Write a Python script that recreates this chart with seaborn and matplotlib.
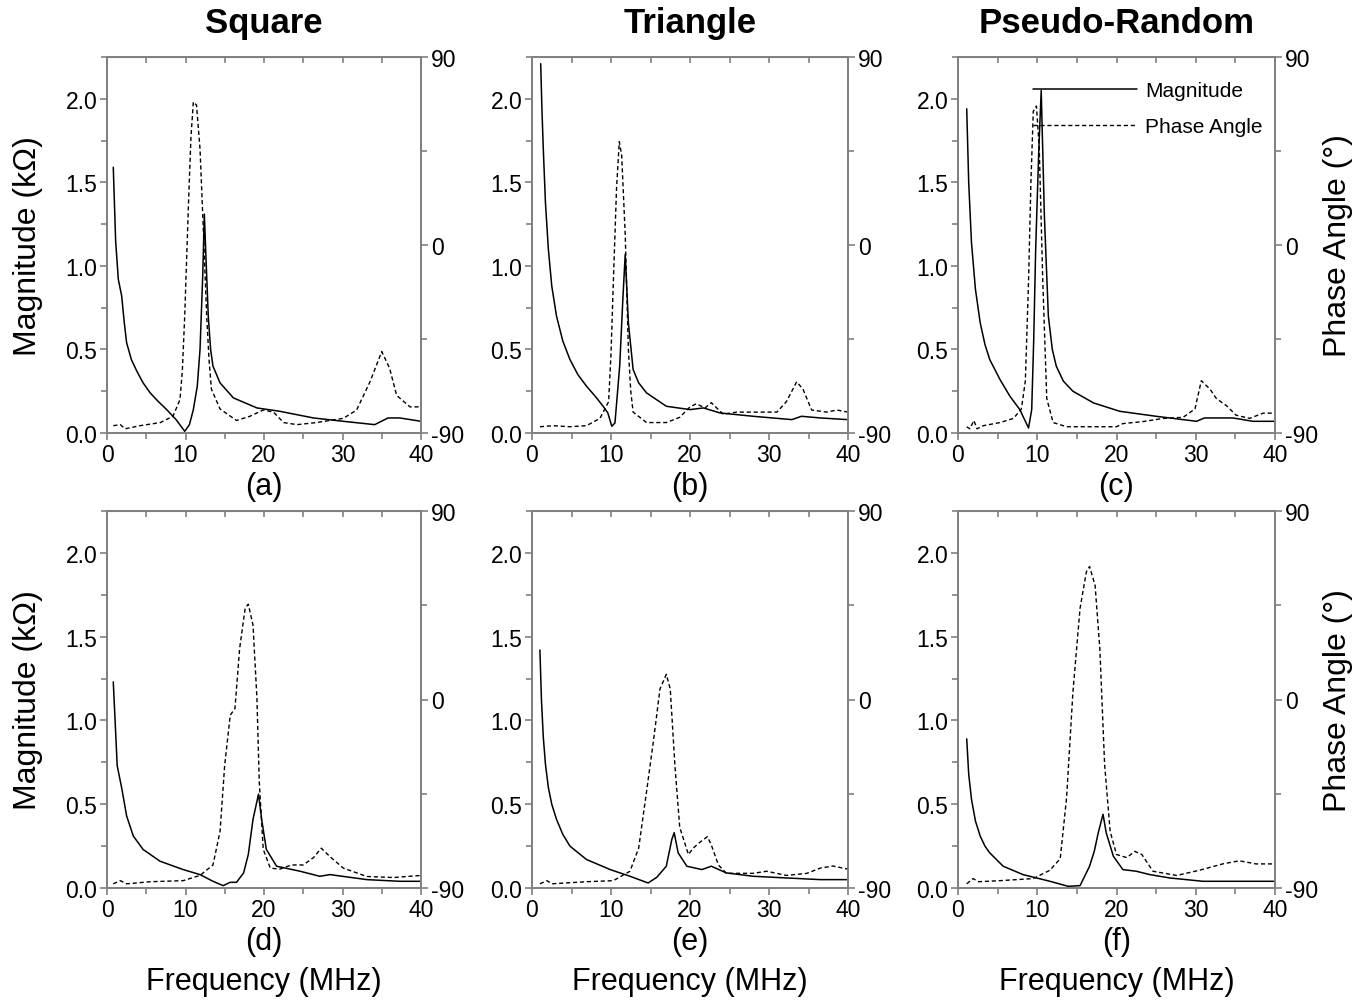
import numpy as np
import pandas as pd
import matplotlib.pyplot as plt
import seaborn as sns
from matplotlib.ticker import MultipleLocator

# ---- data ----
titles = ["Square", "Triangle", "Pseudo-Random"]
letters = ["(a)", "(b)", "(c)", "(d)", "(e)", "(f)"]

# (a) square, first measurement
a_mag_f = [0.8, 1.1, 1.44, 1.87, 2.2, 2.5, 3.1, 3.8, 4.6, 5.5, 6.5, 7.6, 8.8, 9.9, 10.5, 11.0, 11.5,
           11.85, 12.2, 12.4, 12.6, 12.9, 13.2, 13.5, 14.4, 16.1, 19.1, 22.0, 26.3, 30.1, 34.1,
           35.8, 37.3, 40.0]
a_mag = [1.59, 1.15, 0.92, 0.82, 0.66, 0.54, 0.44, 0.37, 0.30, 0.24, 0.19, 0.14, 0.08, 0.01, 0.05,
         0.14, 0.28, 0.50, 0.95, 1.31, 1.06, 0.70, 0.50, 0.40, 0.30, 0.21, 0.15, 0.13, 0.09, 0.07,
         0.05, 0.09, 0.09, 0.07]
a_ph_f = [0.8, 1.7, 2.3, 4.2, 6.8, 8.4, 9.3, 9.6, 9.9, 10.4, 10.7, 11.0, 11.4, 11.85, 12.3, 12.7,
          13.0, 13.3, 14.4, 16.5, 18.2, 19.9, 21.2, 22.5, 24.2, 26.7, 30.1, 31.8, 33.5, 35.0, 36.0,
          36.9, 38.6, 40.0]
a_ph = [-86.5, -86, -88, -86.5, -85, -82, -74, -60, -34, 22, 52, 68.5, 67, 46, 5, -34,
        -55, -69, -78.5, -84, -82, -79, -80, -85, -86, -85, -83, -79, -65.5, -51, -59,
        -72, -77.5, -77.5]

# (b) triangle
b_mag_f = [1.1, 1.25, 1.43, 1.7, 2.07, 2.5, 3.1, 3.9, 4.8, 5.8, 6.9, 8.0, 9.0, 9.6, 10.1, 10.5,
           11.1, 11.5, 11.8, 12.2, 12.8, 13.5, 14.5, 17.0, 20.0, 21.7, 23.8, 28.0, 32.9, 34.1,
           36.5, 40.0]
b_mag = [2.21, 1.95, 1.70, 1.38, 1.10, 0.88, 0.70, 0.55, 0.44, 0.35, 0.28, 0.22, 0.16, 0.12, 0.04,
         0.06, 0.40, 0.80, 1.07, 0.66, 0.38, 0.30, 0.24, 0.16, 0.14, 0.15, 0.12, 0.10, 0.08, 0.10,
         0.09, 0.08]
b_ph_f = [1.0, 2.7, 4.8, 6.9, 8.6, 9.7, 10.0, 10.3, 10.7, 11.05, 11.35, 11.8, 12.2, 12.5, 12.8,
          14.5, 17.0, 18.7, 20.0, 20.8, 21.9, 22.7, 24.2, 25.9, 28.0, 31.0, 32.2, 33.5, 34.3,
          35.4, 37.3, 38.6, 40.0]
b_ph = [-87, -86.5, -87, -86.5, -83, -75, -52, -17.5, 27, 49.5, 43, 5, -50, -70, -80,
        -85, -85, -82.5, -77.5, -76, -78, -75.5, -81, -80, -80, -80, -75, -65.5, -69,
        -79, -80, -79, -80]

# (c) pseudo-random
c_mag_f = [1.1, 1.35, 1.7, 2.2, 2.8, 3.4, 4.0, 5.3, 6.55, 7.8, 8.9, 9.3, 9.55, 9.8, 10.2, 10.5,
           10.9, 11.4, 11.9, 12.4, 13.3, 14.5, 17.1, 20.4, 25.0, 30.1, 31.1, 34.7, 37.2, 40.0]
c_mag = [1.94, 1.50, 1.14, 0.86, 0.66, 0.53, 0.44, 0.32, 0.22, 0.14, 0.03, 0.14, 0.55, 1.10, 1.70,
         2.05, 1.30, 0.70, 0.50, 0.40, 0.31, 0.25, 0.18, 0.13, 0.10, 0.07, 0.09, 0.09, 0.07, 0.07]
c_ph_f = [1.1, 1.5, 2.0, 2.4, 3.2, 5.3, 7.0, 8.0, 8.5, 8.9, 9.2, 9.5, 9.9, 10.25, 10.7, 11.2, 12.0,
          13.7, 17.9, 20.0, 20.8, 23.4, 25.9, 28.4, 29.9, 30.7, 31.8, 32.6, 33.9, 35.1, 36.8,
          38.5, 40.0]
c_ph = [-87, -88, -84, -88, -86.5, -85, -83, -78.5, -65, -17.5, 30, 64, 66.5, 46.5, -17.5, -73.5,
        -85, -87, -87, -87, -85.5, -84.5, -83, -82.5, -78.5, -65, -69, -73.5, -77, -81.5, -83,
        -80.5, -80.5]

# (d) square, second measurement
d_mag_f = [0.8, 1.3, 1.9, 2.5, 3.35, 4.6, 6.75, 9.7, 11.85, 13.5, 14.8, 15.7, 16.5, 17.4, 18.0,
           18.6, 19.3, 19.7, 20.3, 21.6, 24.6, 27.1, 28.4, 33.1, 37.3, 40.0]
d_mag = [1.23, 0.73, 0.59, 0.43, 0.31, 0.23, 0.16, 0.11, 0.08, 0.04, 0.014, 0.034, 0.034, 0.09, 0.20,
         0.41, 0.56, 0.41, 0.23, 0.13, 0.10, 0.07, 0.08, 0.05, 0.04, 0.04]
d_ph_f = [0.8, 1.7, 2.5, 5.5, 9.7, 11.85, 13.5, 14.4, 15.0, 15.7, 16.3, 16.9, 17.6, 18.0, 18.6,
          19.1, 19.4, 19.9, 20.8, 22.0, 23.5, 25.0, 26.3, 27.3, 28.4, 30.1, 33.1, 36.5, 40.0]
d_ph = [-88, -86.5, -88, -87, -86.5, -84, -79, -63, -31, -7.5, -4.3, 24.5, 43.5, 45.5, 35.5,
        0.5, -39.5, -71.5, -80.5, -81, -79, -79, -75.5, -71, -75, -80.5, -84.5, -85, -84]

# (e) triangle
e_mag_f = [1.0, 1.2, 1.43, 1.7, 2.07, 2.5, 3.1, 3.9, 4.8, 6.9, 9.9, 12.4, 14.7, 15.8, 17.0, 17.7,
           18.0, 18.5, 19.6, 21.5, 22.7, 24.6, 28.0, 32.2, 36.5, 40.0]
e_mag = [1.42, 1.12, 0.90, 0.74, 0.60, 0.50, 0.41, 0.32, 0.25, 0.17, 0.11, 0.07, 0.03, 0.064, 0.13,
         0.29, 0.33, 0.21, 0.13, 0.11, 0.13, 0.09, 0.07, 0.06, 0.05, 0.05]
e_ph_f = [1.0, 1.9, 2.5, 6.9, 10.3, 12.4, 13.5, 14.5, 15.4, 16.2, 17.0, 17.5, 18.1, 18.7, 19.8,
          20.4, 21.3, 22.2, 22.7, 23.6, 24.6, 28.0, 29.7, 32.2, 34.8, 36.5, 38.1, 40.0]
e_ph = [-88, -86.5, -88, -87, -86.5, -82, -71, -44, -19, 5, 12, 5, -32, -61, -74,
        -71, -68, -65.5, -69.5, -79, -83, -83, -82, -84, -83, -80.5, -79.5, -81]

# (f) pseudo-random
f_mag_f = [1.1, 1.35, 1.7, 2.2, 2.8, 3.4, 4.0, 5.7, 8.2, 9.9, 11.6, 13.9, 15.4, 16.6, 17.2, 17.7,
           18.3, 18.7, 19.6, 20.8, 22.5, 24.2, 26.7, 30.9, 36.8, 40.0]
f_mag = [0.89, 0.68, 0.53, 0.40, 0.31, 0.25, 0.21, 0.13, 0.08, 0.06, 0.04, 0.01, 0.014, 0.13, 0.22,
         0.33, 0.44, 0.33, 0.19, 0.11, 0.10, 0.08, 0.06, 0.04, 0.04, 0.04]
f_ph_f = [1.1, 1.9, 2.6, 5.3, 9.5, 11.6, 12.9, 13.7, 14.5, 15.4, 16.2, 16.6, 17.3, 17.9, 18.5,
          19.2, 20.0, 21.3, 22.3, 23.2, 24.6, 27.6, 30.5, 33.4, 35.5, 37.6, 40.0]
f_ph = [-88, -85.5, -87, -86.5, -85.5, -81.5, -76, -47, 3.5, 43.5, 61, 63.5, 54.5, 24, -31,
        -63, -74, -75.5, -72.5, -74, -82, -84, -81.5, -78.5, -77, -78.5, -78.5]

panels = [
    (a_mag_f, a_mag, a_ph_f, a_ph),
    (b_mag_f, b_mag, b_ph_f, b_ph),
    (c_mag_f, c_mag, c_ph_f, c_ph),
    (d_mag_f, d_mag, d_ph_f, d_ph),
    (e_mag_f, e_mag, e_ph_f, e_ph),
    (f_mag_f, f_mag, f_ph_f, f_ph),
]

sns.set_style("ticks")
plt.rcParams['font.family'] = ['Liberation Sans', 'DejaVu Sans']
plt.rcParams['axes.unicode_minus'] = False
plt.rcParams['text.color'] = 'black'
plt.rcParams['axes.labelcolor'] = 'black'
plt.rcParams['xtick.labelcolor'] = 'black'
plt.rcParams['ytick.labelcolor'] = 'black'

spine_col = '#808080'
fig = plt.figure(figsize=(13.71, 10.04), dpi=100)

lefts = [107, 532, 958]
widths = [314, 316, 317]
rows = [(58, 434), (512, 889)]
W, H = 1371, 1004

for i, (mf, mv, pf, pv) in enumerate(panels):
    r, c = divmod(i, 3)
    top, bot = rows[r]
    ax = fig.add_axes([lefts[c] / W, 1 - bot / H, widths[c] / W, (bot - top) / H])
    ax2 = ax.twinx()

    ph = pd.DataFrame({'f': pf, 'phase': pv})
    mg = pd.DataFrame({'f': mf, 'mag': mv})
    sns.lineplot(data=ph, x='f', y='phase', ax=ax2, color='k', lw=1.0,
                 linestyle=(0, (3, 2)), estimator=None, sort=False, label='Phase Angle')
    sns.lineplot(data=mg, x='f', y='mag', ax=ax, color='k', lw=1.1,
                 estimator=None, sort=False, label='Magnitude')

    ax.set_xlim(0, 40)
    ax.set_ylim(0, 2.25)
    ax2.set_ylim(-90, 90)
    ax.xaxis.set_major_locator(MultipleLocator(10))
    ax.xaxis.set_minor_locator(MultipleLocator(5))
    ax.yaxis.set_major_locator(MultipleLocator(0.5))
    ax.yaxis.set_minor_locator(MultipleLocator(0.25))
    ax.yaxis.set_major_formatter(plt.FormatStrFormatter('%.1f'))
    ax2.yaxis.set_major_locator(MultipleLocator(90))
    ax2.yaxis.set_minor_locator(MultipleLocator(45))

    for a in (ax, ax2):
        for s in a.spines.values():
            s.set_visible(True)
            s.set_color(spine_col)
            s.set_linewidth(1.3)
    ax.tick_params(axis='both', which='both', direction='out', color=spine_col,
                   labelcolor='black', labelsize=16.5, width=1.2, pad=2)
    ax.tick_params(which='major', length=5)
    ax.tick_params(which='minor', length=4)
    ax2.tick_params(axis='y', which='both', direction='out', color=spine_col,
                    labelcolor='black', labelsize=16.5, width=1.2, pad=2)
    ax2.tick_params(which='major', length=5)
    ax2.tick_params(which='minor', length=4)

    # inward ticks on the top spine
    sec = ax.secondary_xaxis('top')
    sec.set_xticks(np.arange(5, 40, 5))
    sec.tick_params(direction='in', length=4, color=spine_col, width=1.2, labeltop=False)
    sec.spines['top'].set_color(spine_col)

    ax.set_xlabel('')
    ax.set_ylabel('')
    ax2.set_ylabel('')
    ax.text(0.5, -0.14, letters[i], transform=ax.transAxes, ha='center', va='center',
            fontsize=22, color='black')

    if r == 0:
        ax.set_title(titles[c], fontsize=25, fontweight='bold', pad=18, color='black')
    else:
        ax.text(0.5, -0.248, 'Frequency (MHz)', transform=ax.transAxes, ha='center',
                va='center', fontsize=22, color='black')
    if c == 0:
        ax.set_ylabel('Magnitude (k\u03a9)', fontsize=23, color='black')
        ax.yaxis.set_label_coords(-0.205, 0.5)
    if c == 2:
        ax2.set_ylabel('Phase Angle (\u00b0)', fontsize=23, color='black')
        ax2.yaxis.set_label_coords(1.15, 0.5)

    if i == 2:
        h1, l1 = ax.get_legend_handles_labels()
        h2, l2 = ax2.get_legend_handles_labels()
        leg = ax2.legend(h1 + h2, l1 + l2, loc='upper right', bbox_to_anchor=(1.02, 0.985),
                         frameon=False, fontsize=15, handlelength=5.0, handletextpad=0.4,
                         labelspacing=0.8)
        for t in leg.get_texts():
            t.set_color('black')
        ax.get_legend().remove()
    else:
        for a in (ax, ax2):
            if a.get_legend() is not None:
                a.get_legend().remove()

plt.savefig('out.png', dpi=100)
